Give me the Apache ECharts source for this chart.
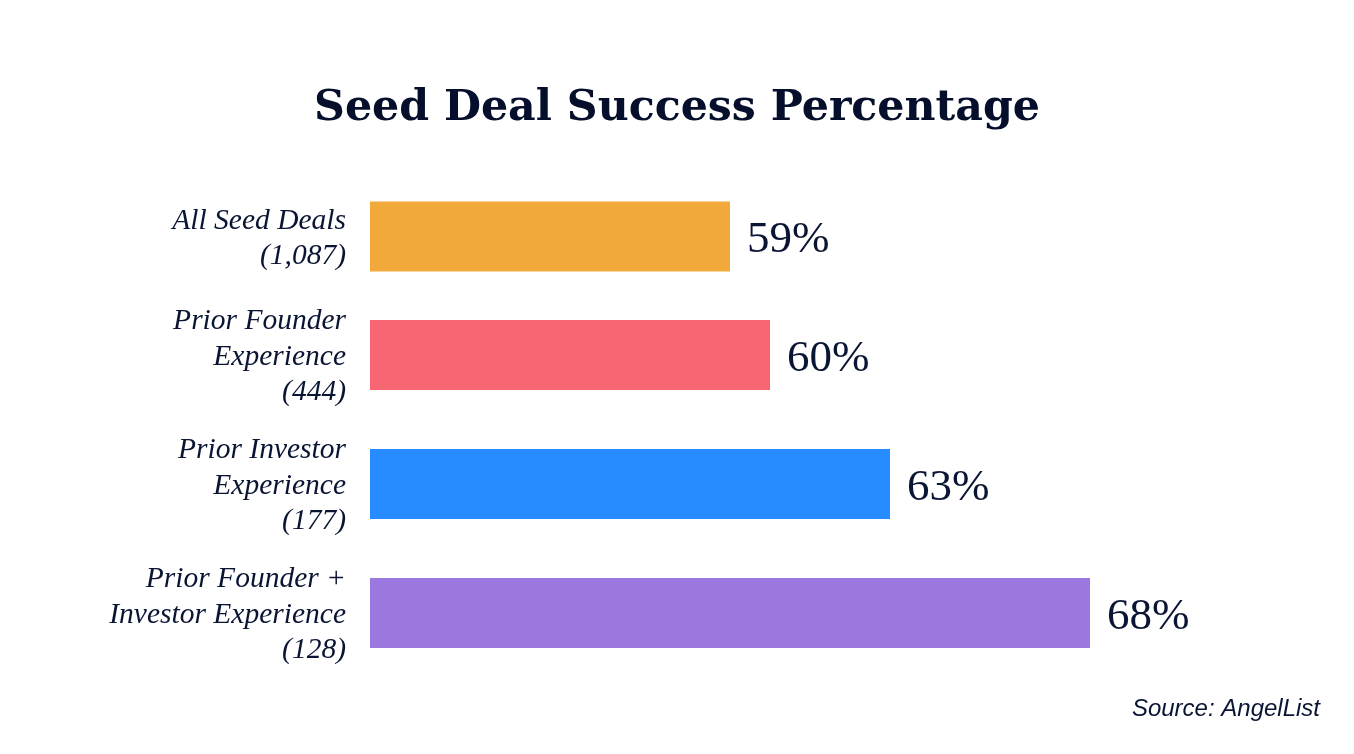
<!DOCTYPE html>
<html>
<head>
<meta charset="utf-8">
<style>
  html, body { margin: 0; padding: 0; background: #fff; }
  #chart { width: 1354px; height: 754px; }
</style>
<script src="https://cdn.jsdelivr.net/npm/echarts@6/dist/echarts.min.js"></script>
</head>
<body>
<div id="chart"></div>
<script>
const categories = [
  "All Seed Deals\n(1,087)",
  "Prior Founder\nExperience\n(444)",
  "Prior Investor\nExperience\n(177)",
  "Prior Founder +\nInvestor Experience\n(128)"
];
const successPct = [59, 60, 63, 68];
const barColors = ["#f2a93b", "#f76672", "#278cff", "#9b77e0"];

const INK = "#0a1433";
const SERIF = "'Liberation Serif', 'DejaVu Serif', serif";

function toItems(start, end) {
  return successPct.slice(start, end).map((v, i) => ({
    value: v,
    itemStyle: { color: barColors[start + i] }
  }));
}

// first row sits a bit closer to the second, so it gets its own grid
function yAxisFor(gridIndex, start, end) {
  return {
    type: "category",
    gridIndex: gridIndex,
    inverse: true,
    data: categories.slice(start, end),
    axisLine: { show: false },
    axisTick: { show: false },
    axisLabel: {
      margin: 24,
      align: "right",
      // small spacer line on top nudges the block down to where the reference has it
      formatter: (v) => "{gap| }\n" + v.split("\n").map((l) => "{cat|" + l + "}").join("\n"),
      rich: {
        gap: { fontSize: 1, lineHeight: 4 },
        cat: {
          color: INK,
          fontFamily: SERIF,
          fontStyle: "italic",
          fontSize: 29.5,
          lineHeight: 35.5
        }
      }
    }
  };
}

function xAxisFor(gridIndex) {
  return { type: "value", gridIndex: gridIndex, min: 50, max: 68, show: false };
}

function seriesFor(axisIndex, start, end) {
  return {
    type: "bar",
    xAxisIndex: axisIndex,
    yAxisIndex: axisIndex,
    barWidth: 70,
    silent: true,
    data: toItems(start, end),
    label: {
      show: true,
      position: "right",
      distance: 17,
      offset: [0, 4],
      formatter: "{c}%",
      color: INK,
      fontFamily: SERIF,
      fontSize: 45,
      padding: [6, 0, 0, 0]
    }
  };
}

const chart = echarts.init(document.getElementById("chart"));
chart.setOption({
  animation: false,
  backgroundColor: "#ffffff",
  title: [
    {
      text: "Seed Deal Success Percentage",
      left: 672,
      top: 82,
      textAlign: "center",
      textStyle: { color: "#050f2c", fontFamily: "'DejaVu Serif', serif", fontWeight: "bold", fontSize: 42.7 }
    },
    {
      text: "Source: AngelList",
      right: 29,
      top: 692,
      textStyle: {
        color: INK,
        fontFamily: "'Liberation Sans', sans-serif",
        fontStyle: "italic",
        fontWeight: "normal",
        fontSize: 24
      }
    }
  ],
  grid: [
    { left: 370, width: 720, top: 172, height: 129 },
    { left: 370, width: 720, top: 290.5, height: 387 }
  ],
  xAxis: [xAxisFor(0), xAxisFor(1)],
  yAxis: [yAxisFor(0, 0, 1), yAxisFor(1, 1, 4)],
  series: [seriesFor(0, 0, 1), seriesFor(1, 1, 4)]
});
</script>
</body>
</html>
